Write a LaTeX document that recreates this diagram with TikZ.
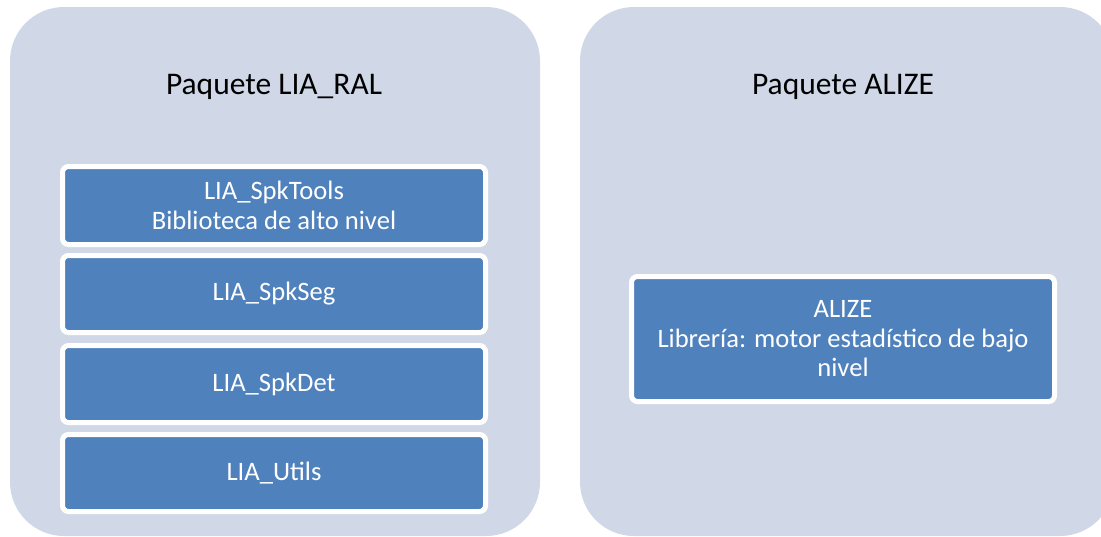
\documentclass[tikz,border=0pt]{standalone}
\usepackage{fontspec}
\setmainfont{Carlito}
\definecolor{panelfill}{HTML}{D0D8E8}
\definecolor{boxblue}{HTML}{4F81BD}
\begin{document}
\begin{tikzpicture}[x=1pt,y=-1pt,
  panel/.style={fill=panelfill, draw=none, rounded corners=54pt},
  title/.style={font=\fontsize{31.5}{38}\selectfont, text=black},
  blk/.style={fill=boxblue, draw=white, line width=5pt, rounded corners=6pt,
    minimum width=423pt, text=white, align=center, inner sep=0pt,
    font=\fontsize{26.6}{29.5}\selectfont},
]
\useasboundingbox (0,0) rectangle (1101,536);
\begin{scope}
\clip (0,0) rectangle (1101,536);
\fill[white] (0,0) rectangle (1101,536);
\path[panel] (10,7) rectangle (540,536);
\path[panel] (580,7) rectangle (1114,536);
\end{scope}
\node[title] (t1) at (274,87) {Paquete LIA\_RAL};
\node[title] (t2) at (843,87) {Paquete ALIZE};
\node[blk, minimum height=78pt] (b1) at (274,205.5) {LIA\_SpkTools\\Biblioteca de alto nivel};
\node[blk, minimum height=77pt] (b2) at (274,294) {LIA\_SpkSeg};
\node[blk, minimum height=77pt] (b3) at (274,384) {LIA\_SpkDet};
\node[blk, minimum height=77pt] (b4) at (274,473) {LIA\_Utils};
\node[blk, minimum height=125pt] (b5) at (843,339) {ALIZE\\Librería: motor estadístico de bajo\\nivel};
\end{tikzpicture}
\end{document}
